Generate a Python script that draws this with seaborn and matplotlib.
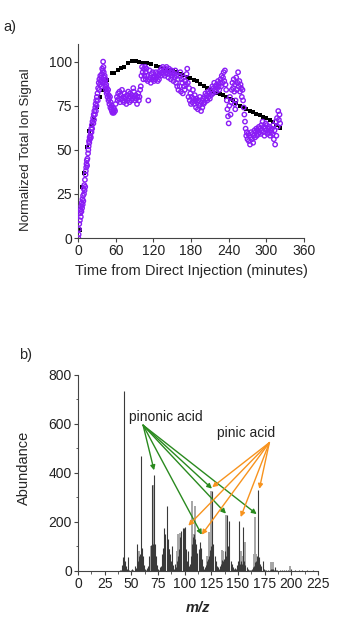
import numpy as np
import pandas as pd
import matplotlib
matplotlib.use("Agg")
import matplotlib.pyplot as plt
from matplotlib.ticker import MultipleLocator
import seaborn as sns

# ---- panel a: total ion signal vs time (time, value) ----
black_pts = [(3, 4.5), (6, 29), (9.5, 37), (14, 51.5), (17, 60.5), (22, 64), (25.5, 68),
             (30, 74), (35, 79.7), (40, 84), (45.5, 89.5), (53.5, 93.4), (58, 93.5), (63, 95),
             (68, 96.5), (74, 97), (80, 99.5), (86, 100.2), (92, 100.5), (97, 100), (103, 99.5),
             (110, 99.4), (117, 98.7), (124, 97.6), (130, 97), (137, 96), (144, 95.3),
             (151, 94.6), (157, 94), (163, 93.2), (168, 92.5), (173, 91.5), (179, 90.5),
             (184, 89.7), (189, 88.8), (195, 87.5), (200, 86.2), (205, 85), (210, 84), (215, 83),
             (220, 82.2), (226, 81.6), (231, 81), (236, 80), (242, 79), (247, 78), (252, 76.5),
             (258, 75), (263, 74), (268, 73), (274, 72), (279, 71.3), (284, 70.5), (290, 69.7),
             (295, 68.8), (300, 68), (306, 67), (311, 65.5), (316, 63.8), (321, 62.2)]

purple_rise = [(0.5, 0), (1, 2), (1.5, 5), (2, 8), (3, 10), (3.5, 14), (4, 16), (4.5, 12),
               (5, 18), (5.5, 15), (6, 20), (6.5, 17), (7, 22), (7.5, 19), (8, 24), (8.5, 21),
               (9, 28), (9.5, 25), (10, 30), (10.5, 27), (11, 33), (11.5, 29), (12, 36),
               (12.5, 38), (13, 40), (13.5, 42), (14, 44), (14.5, 41), (15, 45), (16, 48),
               (16.5, 50), (17, 52), (17.5, 55), (18, 54), (18.5, 57), (19, 56), (19.5, 58),
               (20, 60), (20.5, 57), (21, 62), (21.5, 60), (22, 64), (22.5, 62), (23, 66),
               (24, 68), (24.5, 65), (25, 70), (25.5, 67), (26, 72), (27, 70), (27.5, 74),
               (28, 76), (28.5, 72), (29, 78), (29.5, 75), (30, 80), (31, 82), (31.5, 78),
               (32, 85), (33, 88), (33.5, 84), (34, 90), (35, 87), (35.5, 92), (36, 89),
               (37, 91), (37.5, 86), (38, 93), (38.5, 96), (39, 88), (39.5, 95), (40, 100),
               (40.5, 97), (41, 94), (41.5, 91)]
purple_dip = [(42, 89), (42.5, 92), (43, 88), (43.5, 86), (44, 90), (44.5, 84), (45, 87),
              (45.5, 82), (46, 85), (46.5, 83), (47, 80), (48, 84), (48.5, 78), (49, 81),
              (49.5, 79), (50, 76), (51, 80), (51.5, 74), (52, 77), (53, 73), (53.5, 75),
              (54, 72), (55, 71), (56, 74), (56.5, 72), (57, 71), (58, 73), (59, 72), (60, 76)]
purple_plateau = [(62, 80), (63, 78), (64, 82), (65, 79), (66, 83), (67, 77), (68, 81), (69, 79),
                  (70, 84), (71, 78), (72, 80), (73, 77), (74, 82), (75, 79), (76, 80), (77, 76),
                  (78, 81), (79, 78), (80, 83), (81, 79), (82, 77), (83, 82), (84, 80), (85, 78),
                  (86, 81), (87, 79), (88, 85), (89, 83), (90, 80), (91, 78), (92, 81), (93, 79),
                  (94, 76), (95, 80), (96, 82), (97, 78), (98, 80), (99, 84), (100, 86),
                  (101, 92)]
purple_mid = [(102, 97), (103, 94), (104, 90), (105, 96), (106, 92), (107, 97), (107.5, 94),
              (108, 90), (109, 96), (110, 92), (111, 89), (112, 78), (113, 90), (114, 95),
              (115, 91), (116, 88), (117, 93), (118, 90), (119, 94), (120, 91), (121, 89),
              (122, 92), (123, 90), (124, 94), (125, 91), (126, 93), (127, 89), (128, 92),
              (129, 90), (130, 93), (131, 95), (132, 92), (133, 96), (134, 94), (135, 97),
              (136, 93), (137, 95), (138, 92), (139, 96), (140, 94), (141, 97), (142, 93),
              (143, 95), (144, 91), (145, 96), (146, 93), (147, 94), (148, 90), (149, 95),
              (150, 92), (151, 94), (152, 89), (153, 93), (154, 91), (155, 95), (156, 88),
              (157, 92), (158, 86), (159, 90), (160, 84)]
purple_late = [(161, 92), (162, 86), (163, 94), (164, 83), (165, 90), (166, 88), (167, 82),
               (168, 91), (169, 86), (170, 84), (171, 89), (172, 87), (173, 93), (174, 96),
               (175, 88), (176, 80), (177, 85), (178, 78), (179, 82), (180, 76), (181, 80),
               (182, 77), (183, 84), (184, 79), (185, 76), (186, 81), (187, 78), (188, 74),
               (189, 79), (190, 77), (191, 73), (192, 78), (193, 75), (194, 80), (195, 76),
               (196, 72), (197, 77), (198, 74), (199, 79), (200, 76), (201, 80), (202, 77),
               (203, 82), (204, 79), (205, 81), (206, 78), (207, 83), (208, 80), (209, 82),
               (210, 79), (211, 84), (212, 81), (213, 83), (214, 86), (215, 82), (216, 85),
               (217, 88), (218, 84), (219, 86), (220, 83), (221, 87), (222, 85), (223, 89),
               (224, 86), (225, 84), (226, 88), (227, 90), (228, 86), (229, 92), (230, 88),
               (231, 91), (232, 94), (233, 89), (234, 95), (235, 87), (236, 84), (237, 78),
               (238, 73), (239, 69), (240, 65), (241, 75), (242, 80), (243, 70), (244, 77),
               (245, 84), (246, 88), (247, 85), (248, 90), (249, 83), (249.5, 76), (250, 87),
               (250.5, 73), (251, 78), (252, 91), (253, 84), (254, 88), (255, 94), (256, 86),
               (257, 89), (258, 83), (259, 87), (260, 85), (261, 80), (262, 84)]
purple_end = [(263, 78), (264, 74), (265, 70), (266, 66), (267, 62), (268, 58), (269, 60),
              (270, 56), (271, 59), (272, 55), (273, 58), (274, 53), (275, 57), (276, 60),
              (277, 56), (278, 59), (279, 54), (280, 58), (281, 61), (282, 57), (283, 60),
              (284, 62), (285, 58), (286, 61), (287, 59), (288, 63), (289, 60), (290, 62),
              (291, 59), (292, 64), (293, 61), (294, 66), (295, 60), (296, 63), (297, 58),
              (298, 62), (299, 65), (300, 61), (301, 64), (302, 59), (303, 62), (304, 60),
              (305, 63), (306, 58), (307, 61), (308, 60), (309, 62), (310, 59), (311, 64),
              (312, 56), (313, 61), (314, 53), (315, 66), (316, 58), (317, 68), (318, 63),
              (319, 72), (320, 67), (321, 70), (322, 65)]

# ---- panel b: mass spectrum (m/z, abundance) ----
dark_peaks = [(39, 5), (40, 3), (41, 25), (42, 55), (43, 735), (44, 40), (45, 20), (46, 8),
              (47, 59), (48, 3), (50, 3), (51, 8), (52, 4), (53, 20), (54, 12), (55, 110),
              (56, 40), (57, 60), (58, 70), (59, 470), (60, 95), (61, 60), (62, 25), (63, 10),
              (64, 5), (65, 12), (66, 20), (67, 60), (68, 105), (69, 350), (70, 110), (71, 390),
              (72, 110), (73, 60), (74, 25), (75, 10), (76, 5), (77, 15), (78, 20), (79, 70),
              (80, 95), (81, 175), (82, 150), (83, 265), (84, 130), (85, 90), (86, 70), (87, 40),
              (88, 100), (89, 25), (90, 10), (91, 30), (92, 15), (93, 40), (94, 60), (95, 90),
              (96, 140), (97, 165), (98, 175), (99, 175), (100, 180), (101, 90), (102, 40),
              (103, 80), (104, 20), (105, 30), (106, 60), (107, 110), (108, 140), (109, 150),
              (110, 130), (111, 110), (112, 75), (113, 90), (114, 120), (115, 95), (116, 50),
              (117, 20), (118, 10), (119, 15), (120, 25), (121, 40), (122, 50), (123, 60),
              (124, 85), (125, 100), (126, 325), (127, 110), (128, 60), (129, 40), (130, 20),
              (131, 15), (132, 10), (133, 20), (134, 30), (135, 45), (136, 40), (137, 50),
              (138, 80), (139, 60), (140, 230), (141, 100), (142, 205), (143, 40), (144, 30),
              (145, 15), (146, 10), (147, 12), (148, 10), (149, 25), (150, 40), (151, 205),
              (152, 30), (153, 40), (154, 30), (155, 180), (156, 40), (157, 25), (158, 15),
              (159, 8), (160, 5), (161, 5), (162, 5), (163, 10), (164, 15), (165, 20), (166, 35),
              (167, 40), (168, 60), (169, 330), (170, 55), (171, 30), (172, 20), (173, 40),
              (174, 10), (175, 5), (176, 3), (178, 3), (180, 5), (181, 8), (182, 10), (183, 8),
              (184, 6), (185, 15), (186, 5), (187, 3), (189, 4), (191, 6), (193, 5), (195, 5),
              (197, 3), (200, 8), (203, 4), (207, 4), (210, 5), (215, 4), (220, 3)]
gray_peaks = [(57, 80), (68, 100), (70, 350), (85, 90), (93, 80), (94, 150), (96, 155),
              (107, 285), (108, 150), (110, 265), (121, 60), (123, 160), (124, 120), (125, 325),
              (135, 85), (136, 80), (139, 230), (153, 80), (154, 60), (157, 120), (165, 70),
              (166, 220), (167, 70), (181, 35), (182, 35), (183, 35), (199, 20)]

# arrows: label anchor -> peak tips (data coords)
pinonic_xy = (61, 595)
pinonic_tips = [(71.3, 411), (125.6, 336), (116, 148), (138.7, 234), (167.5, 232)]
pinic_xy = (179.4, 524)
pinic_tips = [(125.8, 342), (103.4, 185), (116, 148), (152.5, 220), (170, 335)]

sns.set_style("ticks")
plt.rcParams['font.family'] = ['Liberation Sans', 'DejaVu Sans']
plt.rcParams['axes.edgecolor'] = '#444444'
plt.rcParams['xtick.color'] = '#444444'
plt.rcParams['ytick.color'] = '#444444'
plt.rcParams['xtick.labelcolor'] = '#222222'
plt.rcParams['ytick.labelcolor'] = '#222222'

fig = plt.figure(figsize=(3.38, 6.26), dpi=100)
ax1 = fig.add_axes([0.2308, 0.6198, 0.6686, 0.3099])
ax2 = fig.add_axes([0.2308, 0.0879, 0.7101, 0.3131])

# panel a
purple_pts = purple_rise + purple_dip + purple_plateau + purple_mid + purple_late + purple_end
dfp = pd.DataFrame(purple_pts, columns=["t", "v"])
dfb = pd.DataFrame(black_pts, columns=["t", "v"])
sns.scatterplot(data=dfb, x="t", y="v", ax=ax1, marker="s", color="black",
                s=10, linewidth=0, zorder=2)
sns.scatterplot(data=dfp, x="t", y="v", ax=ax1, marker="o", facecolors="none",
                edgecolor="#8a1cf5", linewidth=1.0, s=10, zorder=3)
ax1.set_xlim(0, 360)
ax1.set_ylim(0, 110)
ax1.set_xticks([0, 60, 120, 180, 240, 300, 360])
ax1.set_yticks([0, 25, 50, 75, 100])
ax1.set_xlabel("Time from Direct Injection (minutes)", fontsize=10.5, labelpad=4)
ax1.set_ylabel("Normalized Total Ion Signal", fontsize=9.6)
ax1.yaxis.set_label_coords(-0.205, 0.455)
ax1.tick_params(labelsize=10, length=3, width=0.8, pad=1.5)
sns.despine(ax=ax1)
fig.text(0.01, 0.957, "a)", fontsize=10.5, ha="left", va="center")

# panel b
dfd = pd.DataFrame(dark_peaks, columns=["mz", "ab"])
dfg = pd.DataFrame(gray_peaks, columns=["mz", "ab"])
ax2.vlines(dfg["mz"], 0, dfg["ab"], color="#a6a6a6", linewidth=1.4, zorder=1)
ax2.vlines(dfd["mz"], 0, dfd["ab"], color="#3a3a3a", linewidth=0.8, zorder=2)
ax2.set_xlim(0, 225)
ax2.set_ylim(0, 800)
ax2.xaxis.set_major_locator(MultipleLocator(25))
ax2.xaxis.set_minor_locator(MultipleLocator(12.5))
ax2.yaxis.set_major_locator(MultipleLocator(200))
ax2.yaxis.set_minor_locator(MultipleLocator(100))
ax2.tick_params(which="major", labelsize=10, length=3, width=0.8, pad=1.5)
ax2.tick_params(which="minor", length=1.8, width=0.6)
ax2.set_xlabel("m/z", fontsize=10.5, fontweight="bold", fontstyle="italic", labelpad=7)
ax2.set_ylabel("Abundance", fontsize=10.5)
ax2.yaxis.set_label_coords(-0.195, 0.525)
sns.despine(ax=ax2)
fig.text(0.055, 0.433, "b)", fontsize=10.5, ha="left", va="center")

ax2.text(82, 630, "pinonic acid", fontsize=10, ha="center", va="center", color="#222222")
ax2.text(158, 565, "pinic acid", fontsize=10, ha="center", va="center", color="#222222")
for tip in pinonic_tips:
    ax2.annotate("", xy=tip, xytext=pinonic_xy,
                 arrowprops=dict(arrowstyle="-|>", color="#2a8a1f", lw=1.0,
                                 mutation_scale=7, shrinkA=0, shrinkB=0))
for tip in pinic_tips:
    ax2.annotate("", xy=tip, xytext=pinic_xy,
                 arrowprops=dict(arrowstyle="-|>", color="#f7931e", lw=1.0,
                                 mutation_scale=7, shrinkA=0, shrinkB=0))

fig.savefig("out.png", dpi=100)
